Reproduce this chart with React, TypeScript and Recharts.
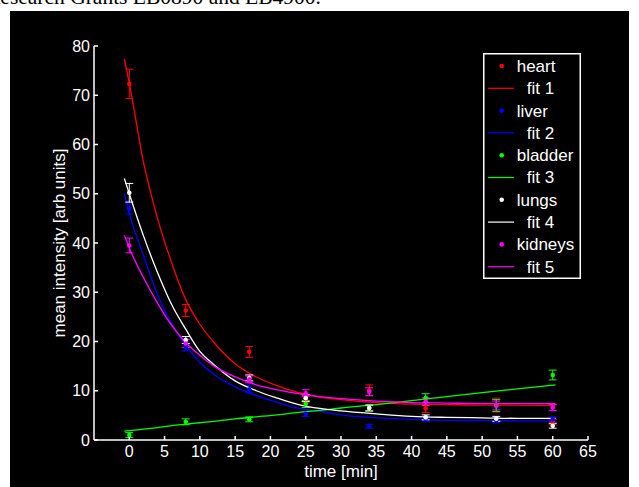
import { ComposedChart, Line, Scatter, ErrorBar, XAxis, YAxis, Legend } from 'recharts';

// measured time points (min)
const sampleTimes = [0, 8, 17, 25, 34, 42, 52, 60];

const heartMean = [72.3, 26.3, 17.9, 8.3, 10.1, 6.4, 7.1, 3.7];
const heartErr = [3.0, 1.2, 1.1, 0.8, 1.1, 0.8, 1.4, 0.5];
const liverMean = [46.9, 18.9, 10.3, 5.3, 2.8, 4.3, 4.0, 4.2];
const liverErr = [1.0, 0.8, 0.7, 0.5, 0.4, 0.5, 0.5, 0.5];
const bladderMean = [1.0, 3.7, 4.2, 7.3, 6.5, 8.5, 7.0, 13.2];
const bladderErr = [0.5, 0.6, 0.5, 0.7, 0.6, 0.9, 1.2, 1.0];
const lungsMean = [50.2, 20.3, 12.6, 8.5, 6.5, 4.6, 4.3, 2.9];
const lungsErr = [1.9, 0.7, 0.6, 0.7, 0.6, 0.5, 0.5, 0.5];
const kidneysMean = [39.5, 19.6, 12.3, 9.5, 9.8, 7.8, 7.0, 6.6];
const kidneysErr = [1.5, 0.8, 0.7, 0.7, 0.8, 0.8, 0.9, 0.6];

// fitted curves
const fitTimes = [-0.7, 0, 2, 4, 6, 8, 10, 12, 15, 18, 21, 24, 27, 30, 35, 40, 45, 50, 55, 60.4];
const fit1 = [77.4, 72.5, 56.5, 45, 36, 28.5, 23.5, 19.8, 15.5, 12.8, 11.0, 9.6, 8.7, 8.2, 7.6, 7.3, 7.2, 7.1, 7.1, 7.0];
const fit2 = [50.1, 46, 37.5, 29.5, 23.6, 19.2, 15.8, 13.3, 10.8, 9.0, 7.6, 6.4, 5.8, 5.1, 4.5, 4.2, 4.0, 3.95, 3.9, 3.9];
const fit3 = [1.8, 1.9, 2.2, 2.5, 2.9, 3.2, 3.5, 3.8, 4.3, 4.7, 5.1, 5.6, 6.0, 6.5, 7.2, 8.0, 8.8, 9.6, 10.4, 11.2];
const fit4 = [53.1, 50, 41.5, 34, 27.5, 22.5, 18.0, 15.3, 12.0, 10.0, 8.5, 7.2, 6.4, 5.9, 5.3, 4.8, 4.6, 4.5, 4.4, 4.4];
const fit5 = [41.6, 39, 33, 27.8, 23.3, 19.8, 17.2, 15.0, 12.8, 11.2, 10.2, 9.4, 8.8, 8.4, 7.9, 7.6, 7.5, 7.4, 7.4, 7.4];

const xTicks = [0, 5, 10, 15, 20, 25, 30, 35, 40, 45, 50, 55, 60, 65];
const yTicks = [0, 10, 20, 30, 40, 50, 60, 70, 80];

const RED = '#ff0000';
const BLUE = '#0000ff';
const GREEN = '#00ff00';
const WHITE = '#ffffff';
const MAGENTA = '#ff00ff';

const points = (means: number[], errs: number[]) =>
  sampleTimes.map((t, i) => ({ t, v: means[i], err: errs[i] }));
const curve = (vals: number[]) => fitTimes.map((t, i) => ({ t, v: vals[i] }));

const series = [
  { name: 'heart', fit: 'fit 1', color: RED, pts: points(heartMean, heartErr), line: curve(fit1) },
  { name: 'liver', fit: 'fit 2', color: BLUE, pts: points(liverMean, liverErr), line: curve(fit2) },
  { name: 'bladder', fit: 'fit 3', color: GREEN, pts: points(bladderMean, bladderErr), line: curve(fit3) },
  { name: 'lungs', fit: 'fit 4', color: WHITE, pts: points(lungsMean, lungsErr), line: curve(fit4) },
  { name: 'kidneys', fit: 'fit 5', color: MAGENTA, pts: points(kidneysMean, kidneysErr), line: curve(fit5) },
];

const FONT = '"Liberation Sans", Arial, sans-serif';

function LegendBox() {
  const rows = series.flatMap((s) => [
    { label: s.name, color: s.color, kind: 'dot' },
    { label: s.fit, color: s.color, kind: 'line' },
  ]);
  return (
    <svg width={98} height={226} style={{ fontFamily: FONT, display: 'block' }}>
      <rect x={0.75} y={0.75} width={96.5} height={224.5} fill="#000" stroke="#fff" strokeWidth={1.5} />
      {rows.map((r, i) => {
        const cy = 13 + i * 22.3;
        return (
          <g key={r.label}>
            {r.kind === 'dot' ? (
              <circle cx={18.7} cy={cy} r={2.3} fill={r.color} />
            ) : (
              <line x1={5} x2={31} y1={cy} y2={cy} stroke={r.color} strokeWidth={1.2} />
            )}
            <text x={r.kind === 'dot' ? 33.7 : 43.7} y={cy} dy="0.35em" fill="#fff" fontSize={17}>
              {r.label}
            </text>
          </g>
        );
      })}
    </svg>
  );
}

const dotShape = (color: string) => (props: any) =>
  <circle cx={props.cx} cy={props.cy} r={2.3} fill={color} />;

export default function App() {
  return (
    <div style={{ position: 'absolute', left: 0, top: 0, width: 639, height: 487, background: '#fff', overflow: 'hidden' }}>
      <div
        style={{
          position: 'absolute', left: -14, top: -15, fontFamily: '"Liberation Serif", "Times New Roman", serif',
          fontSize: 21.5, lineHeight: '24px', whiteSpace: 'nowrap', color: '#000',
        }}
      >
        Research Grants EB0890 and EB4900.
      </div>
      <div style={{ position: 'absolute', left: 10, top: 11, width: 619, height: 476, background: '#000' }} />
      <div style={{ position: 'absolute', left: 0, top: 0 }}>
        <ComposedChart width={639} height={487} margin={{ top: 46, right: 51, bottom: 7, left: 23 }} style={{ fontFamily: FONT }}>
          <XAxis
            dataKey="t" type="number" domain={[-5, 65]} ticks={xTicks} allowDataOverflow
            stroke="#fff" strokeWidth={1.5} tickSize={-4} tickMargin={10} height={40}
            tick={{ fill: '#fff', fontSize: 16 }}
            label={{ value: 'time [min]', position: 'insideBottom', offset: 3, fill: '#fff', fontSize: 17 }}
          />
          <XAxis
            xAxisId="top" orientation="top" type="number" domain={[-5, 65]} ticks={xTicks} allowDataOverflow
            stroke="#fff" strokeWidth={1.5} tickSize={-4} height={0} tickFormatter={() => ''}
          />
          <YAxis
            type="number" domain={[0, 80]} ticks={yTicks} allowDataOverflow
            stroke="#fff" strokeWidth={1.5} tickSize={-4} tickMargin={8} width={71}
            tick={{ fill: '#fff', fontSize: 16 }}
            label={{ value: 'mean intensity [arb units]', angle: -90, position: 'center', fill: '#fff', fontSize: 17 }}
          />
          <YAxis
            yAxisId="right" orientation="right" type="number" domain={[0, 80]} ticks={yTicks} allowDataOverflow
            stroke="#fff" strokeWidth={1.5} tickSize={-4} width={0} tickFormatter={() => ''}
          />
          {series.flatMap((s) => [
            <Scatter key={s.name} name={s.name} data={s.pts} dataKey="v" fill={s.color} shape={dotShape(s.color)} isAnimationActive={false}>
              <ErrorBar dataKey="err" direction="y" width={4} stroke={s.color} strokeWidth={1} isAnimationActive={false} />
            </Scatter>,
            <Line
              key={s.fit} name={s.fit} data={s.line} dataKey="v" type="monotone" stroke={s.color}
              strokeWidth={1.3} dot={false} activeDot={false} isAnimationActive={false}
            />,
          ])}
          <Legend
            layout="vertical" align="center" verticalAlign="middle"
            wrapperStyle={{ left: 483, top: 53, width: 98, height: 226 }}
            content={() => <LegendBox />}
          />
        </ComposedChart>
      </div>
    </div>
  );
}
